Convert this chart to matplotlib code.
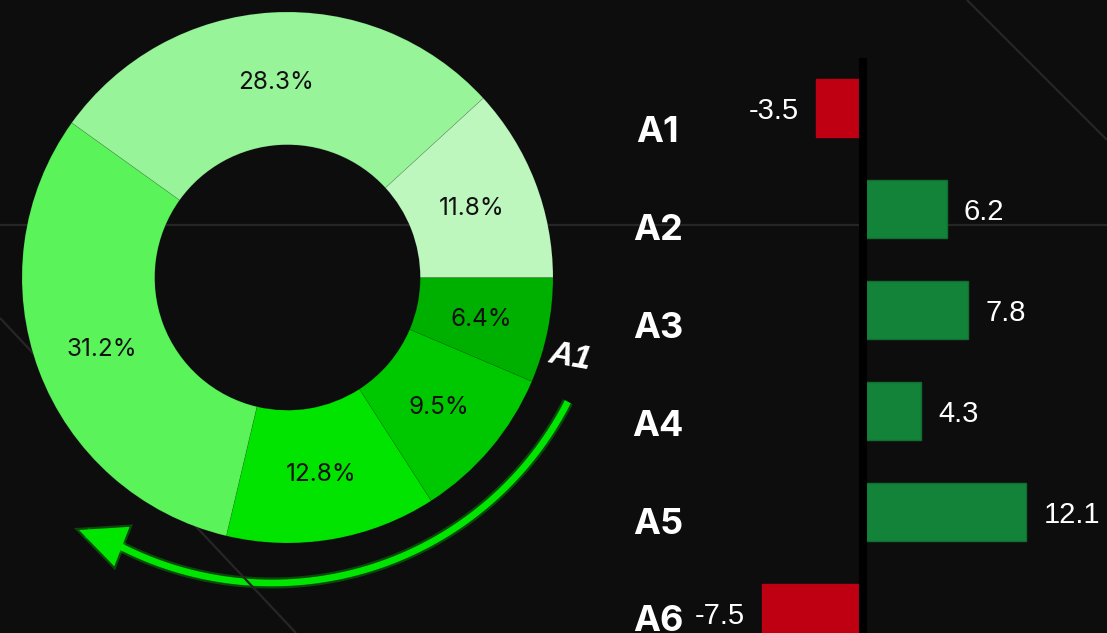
import numpy as np
import matplotlib
matplotlib.use("Agg")
import matplotlib.pyplot as plt
from matplotlib.patches import FancyArrowPatch, ArrowStyle
from matplotlib.path import Path
import matplotlib.patheffects as pe

# ---------------- data ----------------
share_values = [6.4, 9.5, 12.8, 31.2, 28.3, 11.8]
share_colors = ["#00b000", "#00c800", "#00e400", "#5af35a", "#98f498", "#bdf7bd"]
categories = ["A1", "A2", "A3", "A4", "A5", "A6"]
changes = [-3.5, 6.2, 7.8, 4.3, 12.1, -7.5]
arc_label = "A1"

BG = "#0d0d0d"
W, H = 1107, 633
fig = plt.figure(figsize=(W / 100, H / 100), dpi=100, facecolor=BG)

# ---------------- background decoration ----------------
bg = fig.add_axes([0, 0, 1, 1])
bg.set_xlim(0, W)
bg.set_ylim(H, 0)
bg.axis("off")
bg.set_zorder(0)
line_kw = dict(color="#262626", lw=1.6, solid_capstyle="butt")
bg.plot([0, W], [225, 225], **line_kw)
bg.plot([967, 1107], [0, 140], **line_kw)
bg.plot([0, 296], [318, 633], **line_kw)

# ---------------- donut ----------------
pax = fig.add_axes([22 / W, 90 / H, 531 / W, 531 / H])
pax.set_zorder(1)
pax.patch.set_visible(False)
wedges, texts, autotexts = pax.pie(
    share_values, colors=share_colors, startangle=0, counterclock=False,
    radius=1.0, autopct="%.1f%%", pctdistance=0.745,
    wedgeprops=dict(width=0.5, edgecolor=(0, 0, 0, 0.10), linewidth=0.6),
    textprops=dict(color="#111111", fontsize=17.5, family="Inter", va="center_baseline"),
)
for w in wedges:
    w.set_clip_on(False)
pax.set_xlim(-1, 1)
pax.set_ylim(-1, 1)
pax.set_aspect("equal")
pax.axis("off")

# ---------------- bars ----------------
bax = fig.add_axes([600 / W, 0, 507 / W, 1])
bax.set_zorder(2)
bax.patch.set_visible(False)
ypos = np.arange(len(categories))
bar_colors = ["#bf0013" if v < 0 else "#13833a" for v in changes]
edge_colors = ["#bf0013" if v < 0 else "#0f6e30" for v in changes]
bax.barh(ypos, changes, height=0.575, color=bar_colors, edgecolor=edge_colors, linewidth=1, zorder=2)
bax.set_xlim(-19.52, 18.11)
bax.set_ylim(5.198, -1.069)
bax.axis("off")
bax.plot([0, 0], [-0.495, 5.3], color="black", lw=5.8, solid_capstyle="butt", zorder=3)

for i, v in enumerate(changes):
    off = 12.5 if v >= 0 else -12.5
    bax.annotate(f"{v}", xy=(v, i), xytext=(off, 0), textcoords="offset points",
                 ha="left" if v >= 0 else "right", va="center_baseline",
                 fontsize=21, color="white", family="Liberation Sans",
                 annotation_clip=False)

for i, c in enumerate(categories):
    bax.text(-15.22, i * 0.969 + 0.337, c, ha="center", va="baseline",
             fontsize=26, fontweight="bold", color="white", family="Inter",
             clip_on=False)

# ---------------- curved arrow ----------------
cx, cy, r = 272, 251, 332
theta = np.radians(np.linspace(-27, -117.7, 80))
arc = np.column_stack([cx + r * np.cos(theta), cy - r * np.sin(theta)])
tip = np.array([[79, 530]])
verts = np.vstack([arc, tip])
codes = [Path.MOVETO] + [Path.LINETO] * (len(verts) - 1)
arrow = FancyArrowPatch(
    path=Path(verts, codes),
    arrowstyle=ArrowStyle("-|>", head_length=25, head_width=11.5),
    mutation_scale=1, color="#00e600", lw=4.8, capstyle="butt", joinstyle="miter",
    path_effects=[pe.Stroke(linewidth=8, foreground="#00ff00", alpha=0.25), pe.Normal()],
)
bg.add_patch(arrow)
bg.text(570, 357, arc_label, rotation=-10, style="italic", fontweight="bold",
        family="Liberation Sans", fontsize=24, color="white", ha="center", va="center")

fig.savefig("out.png", dpi=100, facecolor=BG)
